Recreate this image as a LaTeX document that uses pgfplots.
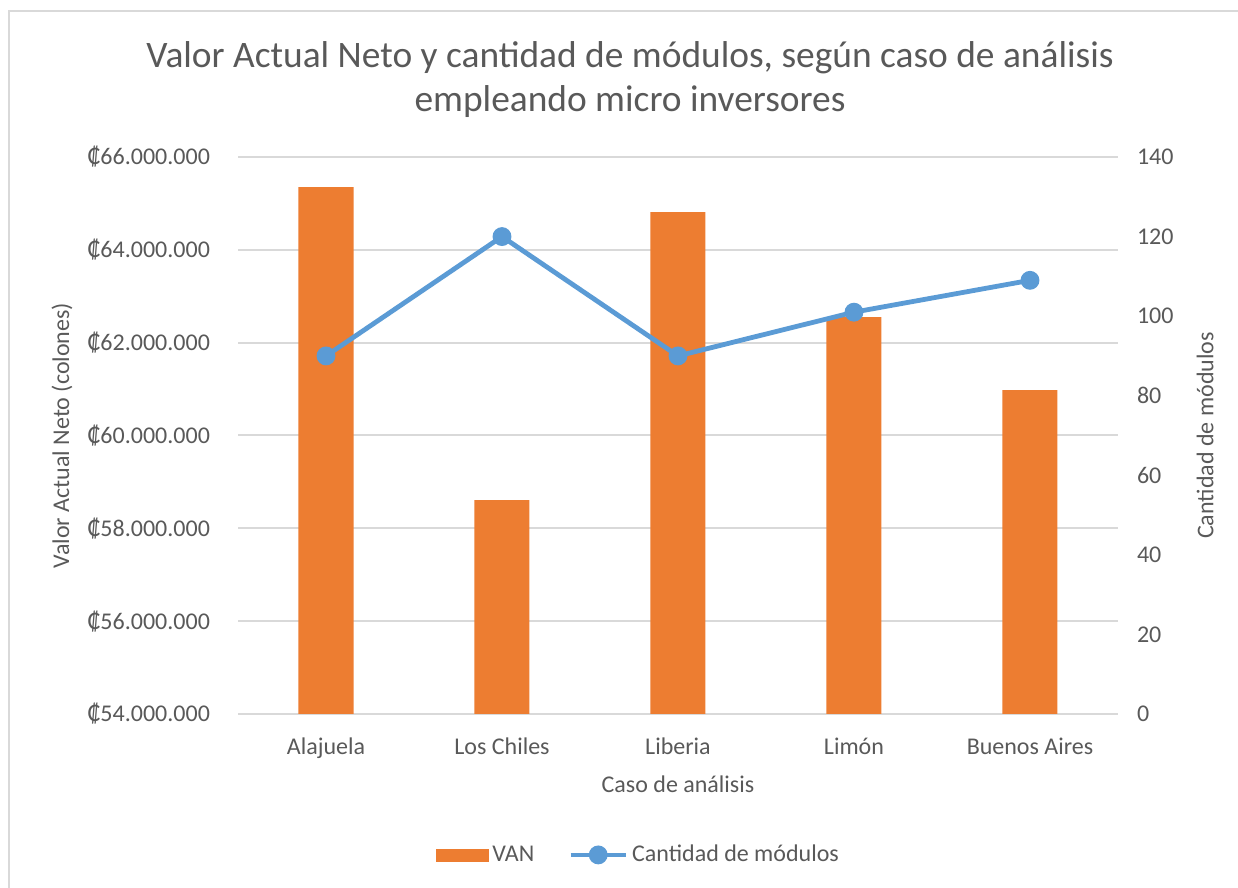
\documentclass[border=0pt]{standalone}
\usepackage{fontspec}
\setmainfont{Carlito}
\usepackage{pgfplots}
\pgfplotsset{compat=1.18}
\definecolor{txt}{HTML}{595959}
\definecolor{grd}{HTML}{D9D9D9}
\definecolor{vanc}{HTML}{ED7D31}
\definecolor{modc}{HTML}{5B9BD5}
\begin{document}
\begin{tikzpicture}[x=1pt,y=1pt]
\useasboundingbox (0,0) rectangle (619,444);
\draw[grd, line width=1pt] (4.5,0) -- (4.5,438.5) -- (619,438.5);
\node[txt, font=\fontsize{18.7}{22}\selectfont] at (315,415) {Valor Actual Neto y cantidad de módulos, según caso de análisis};
\node[txt, font=\fontsize{18.7}{22}\selectfont] at (315,393) {empleando micro inversores};
\begin{axis}[
  at={(119pt,87pt)}, anchor=south west, scale only axis,
  width=440pt, height=278.5pt,
  ybar, bar width=27.5pt,
  xmin=-0.5, xmax=4.5, xtick={0,1,2,3,4},
  xticklabels={Alajuela, Los Chiles, Liberia, Limón, Buenos Aires},
  ymin=54000000, ymax=66000000,
  ytick={54000000,56000000,58000000,60000000,62000000,64000000,66000000},
  yticklabels={₡54.000.000,₡56.000.000,₡58.000.000,₡60.000.000,₡62.000.000,₡64.000.000,₡66.000.000},
  scaled y ticks=false,
  axis line style={draw=none}, tick style={draw=none},
  ymajorgrids, grid style={grd, line width=1pt},
  ticklabel style={font=\fontsize{12}{14}\selectfont, text=txt},
  xticklabel style={yshift=-4pt},
  yticklabel style={xshift=-10.5pt},
  ylabel={Valor Actual Neto (colones)},
  ylabel style={at={(axis description cs:-0.2,0.5)}, anchor=center, font=\fontsize{12}{14}\selectfont, text=txt},
  xlabel={Caso de análisis},
  xlabel style={at={(axis description cs:0.5,-0.127)}, anchor=center, font=\fontsize{12}{14}\selectfont, text=txt},
]
\addplot[fill=vanc, draw=none] coordinates {(0,65350000) (1,58610000) (2,64810000) (3,62550000) (4,60980000)};
\end{axis}
\begin{axis}[
  at={(119pt,87pt)}, anchor=south west, scale only axis,
  width=440pt, height=278.5pt,
  xmin=-0.5, xmax=4.5, hide x axis,
  ymin=0, ymax=140, ytick={0,20,...,140},
  /pgf/number format/assume math mode=true,
  axis y line*=right, axis line style={draw=none}, tick style={draw=none},
  ticklabel style={font=\fontsize{12}{14}\selectfont, text=txt},
  yticklabel style={xshift=6pt},
  ylabel={Cantidad de módulos},
  ylabel style={at={(axis description cs:1.099,0.5)}, anchor=center, rotate=0, font=\fontsize{12}{14}\selectfont, text=txt},
  legend columns=2,
  legend style={at={(axis description cs:0.456,-0.253)}, anchor=center, draw=none, fill=none,
    font=\fontsize{12}{14}\selectfont, text=txt,
    /tikz/every even column/.append style={column sep=15pt}},
]
\addlegendimage{legend image code/.code={\fill[vanc] (0pt,-3pt) rectangle (26pt,3pt);}}
\addlegendentry{VAN}
\addplot[modc, line width=2.4pt, mark=*, mark size=3.5pt,
  legend image code/.code={\draw[modc,line width=2.4pt] (0pt,0pt) -- (27.5pt,0pt); \fill[modc] (13.75pt,0pt) circle (3.5pt);}]
  coordinates {(0,90) (1,120) (2,90) (3,101) (4,109)};
\addlegendentry{Cantidad de módulos}
\end{axis}
\end{tikzpicture}
\end{document}
